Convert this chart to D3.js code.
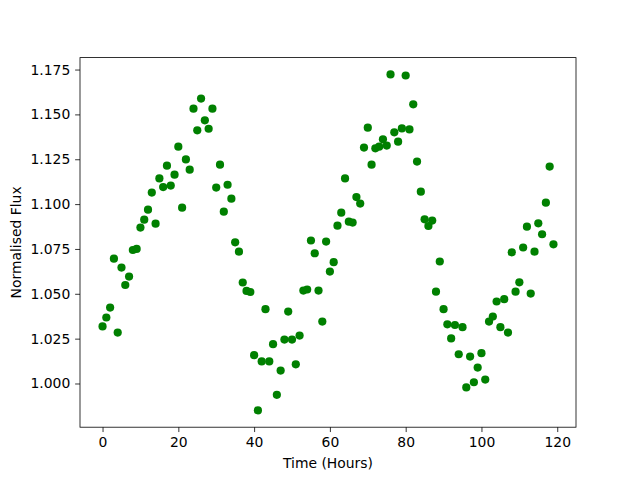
<!DOCTYPE html>
<html><head><meta charset="utf-8">
<script src="https://cdn.jsdelivr.net/npm/d3@7"></script>
<style>body{margin:0;background:#fff}svg{display:block}text{font-family:"DejaVu Sans",sans-serif;fill:#000}</style>
</head><body>
<script>
const hours = d3.range(0, 120);
const flux = [
1.0318,1.0368,1.0423,1.0696,1.0284,1.0646,1.0549,1.0596,1.0744,1.0750,
1.0869,1.0913,1.0969,1.1064,1.0891,1.1143,1.1095,1.1214,1.1103,1.1164,
1.1320,1.0980,1.1249,1.1192,1.1532,1.1411,1.1588,1.1467,1.1420,1.1532,
1.1092,1.1220,1.0958,1.1108,1.1030,1.0787,1.0735,1.0563,1.0516,1.0510,
1.0158,0.9850,1.0123,1.0414,1.0123,1.0219,0.9937,1.0072,1.0245,1.0401,
1.0245,1.0107,1.0267,1.0518,1.0524,1.0797,1.0726,1.0518,1.0345,1.0791,
1.0624,1.0676,1.0880,1.0952,1.1143,1.0902,1.0897,1.1039,1.1003,1.1315,
1.1426,1.1220,1.1311,1.1320,1.1361,1.1326,1.1723,1.1400,1.1348,1.1422,
1.1717,1.1416,1.1556,1.1237,1.1069,1.0915,1.0878,1.0908,1.0512,1.0680,
1.0414,1.0330,1.0251,1.0326,1.0163,1.0314,0.9978,1.0150,1.0007,1.0089,
1.0169,1.0022,1.0345,1.0373,1.0457,1.0314,1.0470,1.0284,1.0731,1.0512,
1.0564,1.0758,1.0874,1.0501,1.0735,1.0893,1.0832,1.1008,1.1209,1.0776];
const xTicks = [0,20,40,60,80,100,120];
const yTicks = [1.000,1.025,1.050,1.075,1.100,1.125,1.150,1.175];
const xLabel = "Time (Hours)";
const yLabel = "Normalised Flux";

const W=640,H=480, L=80, R=576, T=57.6, B=427.2;
const svg = d3.select("body").append("svg").attr("width",W).attr("height",H);
const xPad = (119-0)*0.05, yMin=d3.min(flux), yMax=d3.max(flux), yPad=(yMax-yMin)*0.05;
const x = d3.scaleLinear().domain([0-xPad,119+xPad]).range([L,R]);
const y = d3.scaleLinear().domain([yMin-yPad,yMax+yPad]).range([B,T]);

svg.append("g").selectAll("circle").data(hours).join("circle")
  .attr("cx",(d)=>x(d)).attr("cy",(d,i)=>y(flux[i])).attr("r",4.1).attr("fill","#008000");

const xa = svg.append("g").attr("transform",`translate(0,${B})`)
  .call(d3.axisBottom(x).tickValues(xTicks).tickFormat(d3.format("d")).tickSize(4.86).tickPadding(4.86));
const ya = svg.append("g").attr("transform",`translate(${L},0)`)
  .call(d3.axisLeft(y).tickValues(yTicks).tickFormat(d3.format(".3f")).tickSize(4.86).tickPadding(4.86));
[xa,ya].forEach(a=>{a.select(".domain").remove();a.selectAll("text").attr("font-size","13.9px").attr("font-family","DejaVu Sans");a.selectAll("line").attr("stroke","#000").attr("stroke-width",0.8);});

svg.append("rect").attr("x",L).attr("y",T).attr("width",R-L).attr("height",B-T)
  .attr("fill","none").attr("stroke","#000").attr("stroke-width",0.8);

svg.append("text").attr("x",(L+R)/2).attr("y",468).attr("text-anchor","middle").attr("font-size","13.9px").text(xLabel);
svg.append("text").attr("transform",`translate(21,${(T+B)/2}) rotate(-90)`).attr("text-anchor","middle").attr("font-size","13.9px").text(yLabel);
</script>
</body></html>
